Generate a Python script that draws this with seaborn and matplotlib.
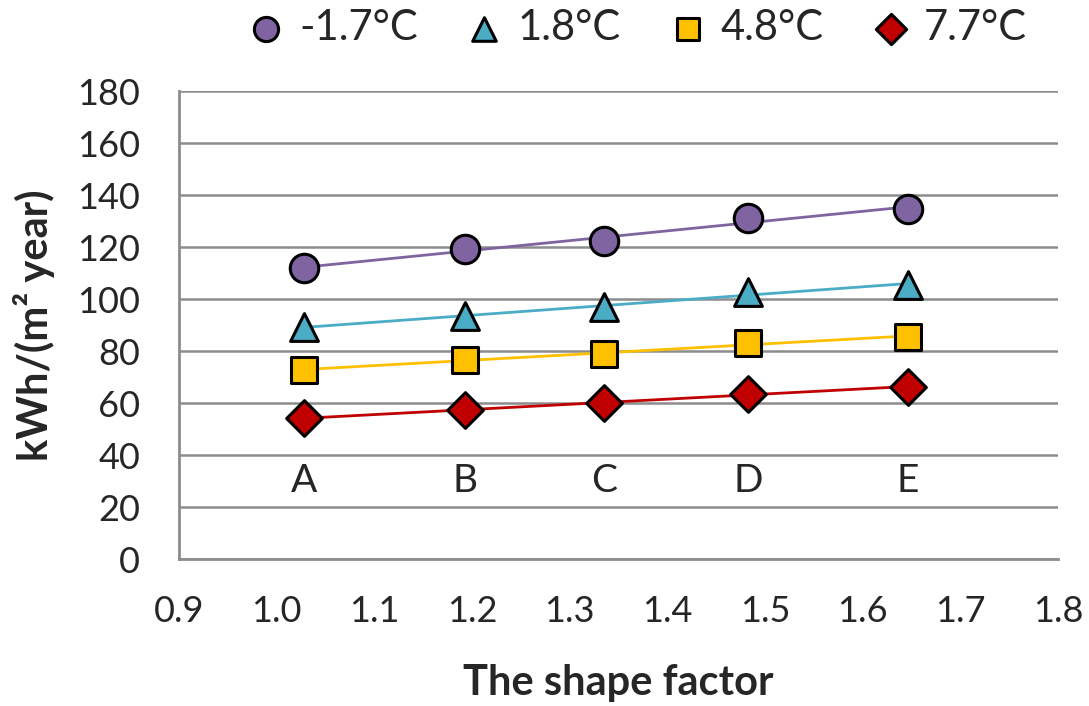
import matplotlib
matplotlib.use("Agg")
import matplotlib.pyplot as plt
import seaborn as sns
import pandas as pd

# datos
shape_factor = [1.028, 1.193, 1.335, 1.483, 1.646]
letters = ["A", "B", "C", "D", "E"]
series_names = ["-1.7°C", "1.8°C", "4.8°C", "7.7°C"]
val_m17 = [111.9, 119.2, 122.3, 131.2, 134.6]
val_18 = [89.2, 93.4, 96.9, 102.7, 105.4]
val_48 = [72.7, 76.6, 78.9, 83.1, 85.4]
val_77 = [54.2, 57.3, 60.0, 63.5, 66.2]

colors = ["#8064A2", "#4BACC6", "#FFC000", "#C00000"]
markers = ["o", "^", "s", "D"]
sizes = [420, 400, 360, 330]

sns.set_style("white")
plt.rcParams["font.family"] = ["Lato", "DejaVu Sans"]

fig = plt.figure(figsize=(10.89, 7.06), dpi=100)
ax = fig.add_axes([0.1644, 0.2082, 0.8072, 0.6629])

handles = []
for name, vals, c, m, s in zip(series_names, [val_m17, val_18, val_48, val_77], colors, markers, sizes):
    df = pd.DataFrame({"x": shape_factor, "y": vals})
    sns.regplot(data=df, x="x", y="y", ax=ax, ci=None, marker=m,
                scatter_kws={"s": s, "color": c, "edgecolors": "black",
                             "linewidths": 2.2, "alpha": 1, "zorder": 4},
                line_kws={"color": c, "lw": 2, "zorder": 3})
    handles.append(ax.collections[-1])

for x, t in zip(shape_factor, letters):
    ax.text(x, 30, t, ha="center", va="center", fontsize=28)

ax.set_xlim(0.9, 1.8)
ax.set_ylim(0, 180)
ax.set_xticks([0.9 + 0.1 * i for i in range(10)])
ax.set_xticklabels([f"{0.9 + 0.1 * i:.1f}" for i in range(10)])
ax.set_yticks(range(0, 181, 20))
ax.yaxis.grid(True, color="#8c8c8c", lw=1.8)
ax.set_axisbelow(True)
for sp in ["top", "right"]:
    ax.spines[sp].set_visible(False)
for sp in ["left", "bottom"]:
    ax.spines[sp].set_color("#8c8c8c")
    ax.spines[sp].set_linewidth(2)
ax.tick_params(axis="both", which="both", direction="out", length=10, width=2,
               color="#8c8c8c", labelsize=26)
ax.tick_params(axis="x", pad=16)
ax.tick_params(axis="y", pad=18)
ax.set_xlabel("The shape factor", fontsize=30, fontweight="bold", labelpad=26)
ax.set_ylabel("kWh/(m² year)", fontsize=30, fontweight="bold", labelpad=16)

fig.legend(handles, series_names, loc="upper center", bbox_to_anchor=(0.584, 1.04),
           ncol=4, frameon=False, fontsize=30, handlelength=1.0, handletextpad=0.3,
           columnspacing=1.1, markerscale=0.85)

fig.savefig("out.png", dpi=100)
